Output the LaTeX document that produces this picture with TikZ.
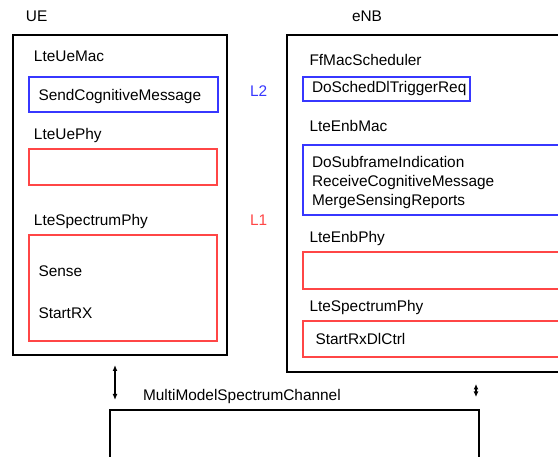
\documentclass[tikz,border=0pt]{standalone}
\usepackage{fontspec}
\setmainfont{Liberation Sans}
\usetikzlibrary{arrows.meta}
\definecolor{sigblue}{RGB}{55,55,255}
\definecolor{sigred}{RGB}{255,70,70}

\begin{document}
\begin{tikzpicture}[x=1pt,y=-1pt,
	every node/.style={font=\fontsize{15.4}{18.8}\selectfont,inner sep=0pt,outer sep=0pt},
	txt/.style={anchor=base west},
	frame/.style={draw,line width=1.5pt,anchor=north west},
	ltwo/.style={draw=sigblue,line width=1.3pt,anchor=north west},
	lone/.style={draw=sigred,line width=1.3pt,anchor=north west},
	link/.style={line width=1.3pt,{Latex[length=6pt,width=5pt]}-{Latex[length=6pt,width=5pt]}}]
	\clip (0,0) rectangle (558,457);
	% UE side
	\node[txt] (uelbl) at (26,22) {UE};
	\node[frame,minimum width=214pt,minimum height=320pt] (ue) at (13,35) {};
	\node[txt] (uemac) at (34,62) {LteUeMac};
	\node[ltwo,minimum width=189pt,minimum height=35pt] (uemacbox) at (29,77) {};
	\node[txt] (sendcog) at (38.5,100.5) {SendCognitiveMessage};
	\node[txt] (uephy) at (34,140) {LteUePhy};
	\node[lone,minimum width=188pt,minimum height=36pt] (uephybox) at (29,149) {};
	\node[txt] (uespec) at (34,226) {LteSpectrumPhy};
	\node[lone,minimum width=188pt,minimum height=106pt] (uespecbox) at (29,235) {};
	\node[txt] (sense) at (38.5,276.5) {Sense};
	\node[txt] (startrx) at (38.5,319) {StartRX};
	% layer labels
	\node[txt,text=sigblue] (ltwolbl) at (250,96.5) {L2};
	\node[txt,text=sigred] (lonelbl) at (250,226) {L1};
	% eNB side
	\node[txt] (enblbl) at (352,22) {eNB};
	\node[frame,minimum width=300pt,minimum height=337pt] (enb) at (287,35) {};
	\node[txt] (sched) at (309.5,65.5) {FfMacScheduler};
	\node[ltwo,minimum width=167pt,minimum height=24pt] (schedbox) at (303,77) {};
	\node[txt] (trigger) at (312,93) {DoSchedDlTriggerReq};
	\node[txt] (enbmac) at (309.5,131.5) {LteEnbMac};
	\node[ltwo,minimum width=300pt,minimum height=70pt] (enbmacbox) at (303,145) {};
	\node[txt,align=left] (macfuncs) at (312,205.5) {DoSubframeIndication\\ReceiveCognitiveMessage\\MergeSensingReports}; % base = last line
	\node[txt] (enbphy) at (309.5,243) {LteEnbPhy};
	\node[lone,minimum width=300pt,minimum height=37pt] (enbphybox) at (303,252) {};
	\node[txt] (enbspec) at (309.5,311.5) {LteSpectrumPhy};
	\node[lone,minimum width=300pt,minimum height=36pt] (enbspecbox) at (303,321) {};
	\node[txt] (startctrl) at (315.5,345) {StartRxDlCtrl};
	% channel
	\node[txt] (chanlbl) at (143,401) {MultiModelSpectrumChannel};
	\node[frame,minimum width=369pt,minimum height=100pt] (chan) at (110,410) {};
	\coordinate (ueport) at (115,365);
	\coordinate (uechan) at (115,400);
	\coordinate (enbport) at (476,384);
	\coordinate (enbchan) at (476,397);
	\draw[link] (ueport) -- (uechan);
	\draw[link,{Latex[length=5.5pt,width=5pt]}-{Latex[length=5.5pt,width=5pt]}] (enbport) -- (enbchan);
\end{tikzpicture}
\end{document}
